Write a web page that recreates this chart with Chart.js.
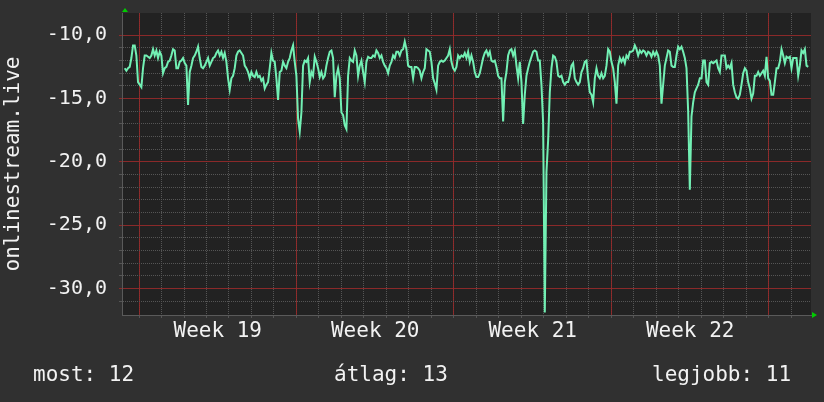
<!DOCTYPE html>
<html>
<head>
<meta charset="utf-8">
<script src="https://cdn.jsdelivr.net/npm/chart.js@4"></script>
<style>
  html, body { margin: 0; padding: 0; background: #303030; }
</style>
</head>
<body>
<canvas id="chart" width="824" height="402"></canvas>
<script>
// x is measured in days from the start of week 19
const weeks = ["Week 19", "Week 20", "Week 21", "Week 22"];
const yTitle = "onlinestream.live";
const stats = [["most", 12], ["átlag", 13], ["legjobb", 11]];

const startDay = -0.636;
const stepDays = 0.0741;

const part1 = [-12.6,-12.8,-12.6,-12.5,-11.8,-10.8,-10.8,-11.6,-13.7,-13.9,
  -14.1,-12.6,-11.6,-11.6,-11.7,-11.8,-11.6,-11.1,-11.6,-11.2,
  -11.8,-11.3,-11.6,-13.0,-12.6,-12.5,-12.1,-12.0,-11.6,-11.1,
  -11.2,-12.6,-12.6,-12.1,-12.0,-11.8,-12.2,-12.4,-15.5,-12.9,
  -12.4,-11.8,-11.6,-11.3,-10.9,-11.8,-12.5,-12.6,-12.4,-12.1,
  -11.8,-12.4,-12.1,-11.8,-11.7,-11.4,-11.2,-11.6,-11.3,-11.8,
  -11.4,-12.1,-13.4,-14.3,-13.4,-13.2,-12.6,-11.6,-11.3,-11.2,
  -11.4,-11.6,-12.4,-12.6,-12.9,-13.4,-12.9,-13.2,-13.3,-12.9,-13.3];

const part2 = [-13.2,-13.6,-13.4,-14.2,-13.9,-13.7,-12.6,-11.4,-12.0,-12.1,
  -13.4,-15.1,-12.9,-12.8,-12.1,-12.4,-12.6,-12.1,-11.8,-11.2,
  -10.8,-12.1,-13.2,-16.6,-17.6,-16.1,-12.4,-12.0,-12.1,-11.8,
  -13.7,-12.9,-13.2,-11.7,-12.1,-12.6,-13.3,-12.9,-13.4,-13.2,
  -12.4,-11.8,-11.3,-11.2,-11.8,-14.9,-13.2,-12.6,-13.4,-16.1,
  -16.3,-17.1,-17.4,-13.2,-11.8,-12.0,-12.1,-11.2,-11.6,-13.2,
  -12.4,-12.0,-12.9,-13.7,-12.1,-11.7,-11.8,-11.8,-11.6,-11.7,
  -11.2,-11.4,-11.8,-11.6,-12.1,-12.4,-12.6,-13.0,-12.4,-12.1,
  -11.6,-11.8,-11.3];

const part3 = [-11.3,-11.6,-11.2,-11.1,-10.5,-11.1,-12.4,-12.5,-12.5,-13.4,
  -12.5,-12.5,-12.6,-12.8,-13.4,-12.9,-12.6,-11.1,-11.2,-11.3,
  -12.1,-13.4,-13.8,-14.3,-12.4,-12.1,-12.0,-12.1,-12.0,-11.8,
  -11.6,-11.1,-12.1,-12.6,-12.8,-12.5,-11.6,-11.8,-11.6,-11.7,
  -11.4,-11.8,-11.3,-12.1,-11.6,-12.1,-12.9,-13.3,-13.3,-13.0,
  -12.4,-11.8,-11.4,-11.2,-11.6,-11.3,-12.0,-12.1,-12.0,-12.5,
  -13.2,-13.4,-13.4,-16.8,-13.7,-12.9,-11.6,-11.2,-11.1,-11.6,
  -11.2,-12.4,-13.4,-12.1,-13.7,-17.0,-14.7,-13.2,-12.6,-12.1,
  -11.7,-11.3,-11.2];

const part4 = [-11.3,-12.0,-12.0,-13.9,-16.9,-31.9,-20.8,-18.3,-14.5,-12.6,
  -11.6,-11.7,-12.1,-13.2,-13.3,-13.2,-13.7,-13.9,-13.7,-13.7,
  -13.2,-12.4,-12.2,-13.4,-13.7,-13.9,-13.7,-12.9,-12.6,-12.1,
  -12.0,-13.4,-14.5,-14.7,-15.3,-13.4,-12.6,-13.2,-13.4,-13.0,
  -13.4,-13.2,-12.4,-11.1,-11.3,-12.1,-12.6,-13.7,-15.4,-12.4,
  -11.8,-12.1,-11.8,-12.2,-11.6,-11.8,-11.3,-11.3,-11.2,-10.8,
  -11.1,-11.6,-11.2,-11.4,-11.2,-11.3,-11.6,-11.3,-11.4,-11.7,
  -11.3,-11.6,-11.3,-11.6,-12.4,-15.4,-13.9,-12.4,-11.8,-11.2,
  -11.3,-12.4,-12.5];

const part5 = [-12.5,-11.6,-10.9,-11.1,-10.9,-11.3,-11.8,-12.6,-16.0,-22.2,
  -16.4,-15.3,-14.5,-14.2,-13.9,-13.4,-13.4,-12.0,-12.0,-13.7,
  -13.9,-12.2,-12.1,-12.2,-12.1,-12.0,-12.6,-12.9,-11.6,-11.6,
  -11.6,-12.6,-12.4,-12.6,-12.2,-13.9,-14.5,-14.9,-15.0,-14.7,
  -13.9,-13.0,-12.6,-12.8,-13.7,-14.2,-15.0,-14.6,-13.2,-13.2,
  -12.9,-13.2,-13.0,-12.8,-13.2,-11.7,-13.4,-13.6,-14.7,-14.7,
  -13.7,-12.6,-12.6,-12.1,-11.1,-11.6,-12.2,-11.7,-11.8,-11.7,
  -12.6,-11.8,-11.8,-11.8,-13.2,-12.4,-11.2,-11.4,-11.1,-12.4,-12.5];

const values = [].concat(part1, part2, part3, part4, part5);
const points = values.map((v, i) => ({ x: startDay + i * stepDays, y: v }));

const FONT = "DejaVu Sans Mono";
const TEXT = "#f2f2f2";
const MINOR = "#555555";
const MAJOR = "rgba(150,42,42,0.9)";
const X_MIN = -0.756;
const X_MAX = 29.87;

const fmt = (v) => v.toFixed(1).replace(".", ",");
const isMultiple = (v, n) => {
  const r = v / n;
  return Math.abs(r - Math.round(r)) < 1e-6;
};

const decor = {
  id: "decor",
  beforeDraw(chart) {
    const { ctx, chartArea: a } = chart;
    ctx.save();
    ctx.fillStyle = "#303030";
    ctx.fillRect(0, 0, chart.width, chart.height);
    ctx.fillStyle = "#222222";
    ctx.fillRect(a.left, a.top, a.right - a.left, a.bottom - a.top);
    ctx.restore();
  },
  afterDraw(chart) {
    const { ctx, chartArea: a } = chart;
    ctx.save();
    // arrow heads
    ctx.fillStyle = "#00cc00";
    ctx.beginPath();
    ctx.moveTo(a.left + 3, a.top - 5);
    ctx.lineTo(a.left, a.top - 1);
    ctx.lineTo(a.left + 6, a.top - 1);
    ctx.fill();
    ctx.beginPath();
    ctx.moveTo(a.right + 6, a.bottom);
    ctx.lineTo(a.right + 1, a.bottom - 3);
    ctx.lineTo(a.right + 1, a.bottom + 3);
    ctx.fill();

    ctx.fillStyle = TEXT;
    ctx.font = "21px '" + FONT + "'";
    // y title
    ctx.save();
    ctx.translate(18.5, 164);
    ctx.rotate(-Math.PI / 2);
    ctx.textAlign = "center";
    ctx.textBaseline = "alphabetic";
    ctx.fillText(yTitle, 0, 0);
    ctx.restore();

    // footer stats
    ctx.textBaseline = "alphabetic";
    ctx.textAlign = "left";
    const xs = [33, 334, 652];
    stats.forEach((s, i) => {
      ctx.fillText(s[0] + ": " + s[1], xs[i], 381);
    });
    ctx.restore();
  }
};

const tickValue = (c) => (c.tick ? c.tick.value : 0.5);

new Chart(document.getElementById("chart"), {
  type: "line",
  data: {
    datasets: [{
      data: points,
      borderColor: "#72f0b4",
      borderWidth: 2,
      pointRadius: 0,
      tension: 0,
      fill: false
    }]
  },
  options: {
    responsive: false,
    animation: false,
    layout: { padding: { left: 0, top: 13, right: 13, bottom: 0 } },
    plugins: { legend: { display: false }, tooltip: { enabled: false } },
    scales: {
      // day grid + week labels
      x: {
        type: "linear",
        z: -1,
        min: X_MIN,
        max: X_MAX,
        afterBuildTicks(scale) {
          const ticks = [];
          for (let k = Math.ceil(scale.min * 2); k <= scale.max * 2; k++) {
            ticks.push({ value: k / 2 });
          }
          scale.ticks = ticks;
        },
        afterFit(scale) {
          scale.height = 87;
          scale.paddingLeft = 0;
          scale.paddingRight = 0;
        },
        grid: {
          color: (c) => (isMultiple(tickValue(c), 1) ? MINOR : "rgba(0,0,0,0)"),
          lineWidth: 1,
          tickLength: 3
        },
        border: { display: true, color: "#5a5a5a", dash: [1, 1] },
        ticks: {
          autoSkip: false,
          maxRotation: 0,
          padding: 1,
          color: TEXT,
          font: { family: FONT, size: 21 },
          callback: (v) => {
            const r = (v - 3.5) / 7;
            if (Math.abs(r - Math.round(r)) < 1e-6) {
              return weeks[Math.round(r)] || "";
            }
            return "";
          }
        }
      },
      // week boundaries
      xWeek: {
        type: "linear",
        position: "bottom",
        z: 0,
        min: X_MIN,
        max: X_MAX,
        afterBuildTicks(scale) {
          const ticks = [];
          for (let k = Math.ceil(scale.min / 7); k * 7 <= scale.max; k++) {
            ticks.push({ value: k * 7 });
          }
          scale.ticks = ticks;
        },
        afterFit(scale) {
          scale.height = 0;
          scale.paddingLeft = 0;
          scale.paddingRight = 0;
        },
        grid: { color: MAJOR, lineWidth: 1, tickLength: 3 },
        border: { display: false },
        ticks: { display: false }
      },
      y: {
        min: -32.1,
        max: -8.24,
        afterFit(scale) {
          scale.width = 122;
          scale.paddingTop = 0;
          scale.paddingBottom = 0;
        },
        grid: {
          color: (c) => {
            const v = tickValue(c);
            if (!isMultiple(v, 1)) return "rgba(0,0,0,0)";
            return isMultiple(v, 5) ? MAJOR : MINOR;
          },
          lineWidth: 1,
          tickLength: 3
        },
        border: {
          display: true,
          color: "#5a5a5a",
          dash: (c) => (isMultiple(tickValue(c), 5) ? [] : [1, 1])
        },
        ticks: {
          stepSize: 1,
          autoSkip: false,
          padding: 12,
          color: TEXT,
          font: { family: FONT, size: 20 },
          callback: (v) => (isMultiple(v, 5) ? fmt(v) : "")
        }
      }
    }
  },
  plugins: [decor]
});
</script>
</body>
</html>
